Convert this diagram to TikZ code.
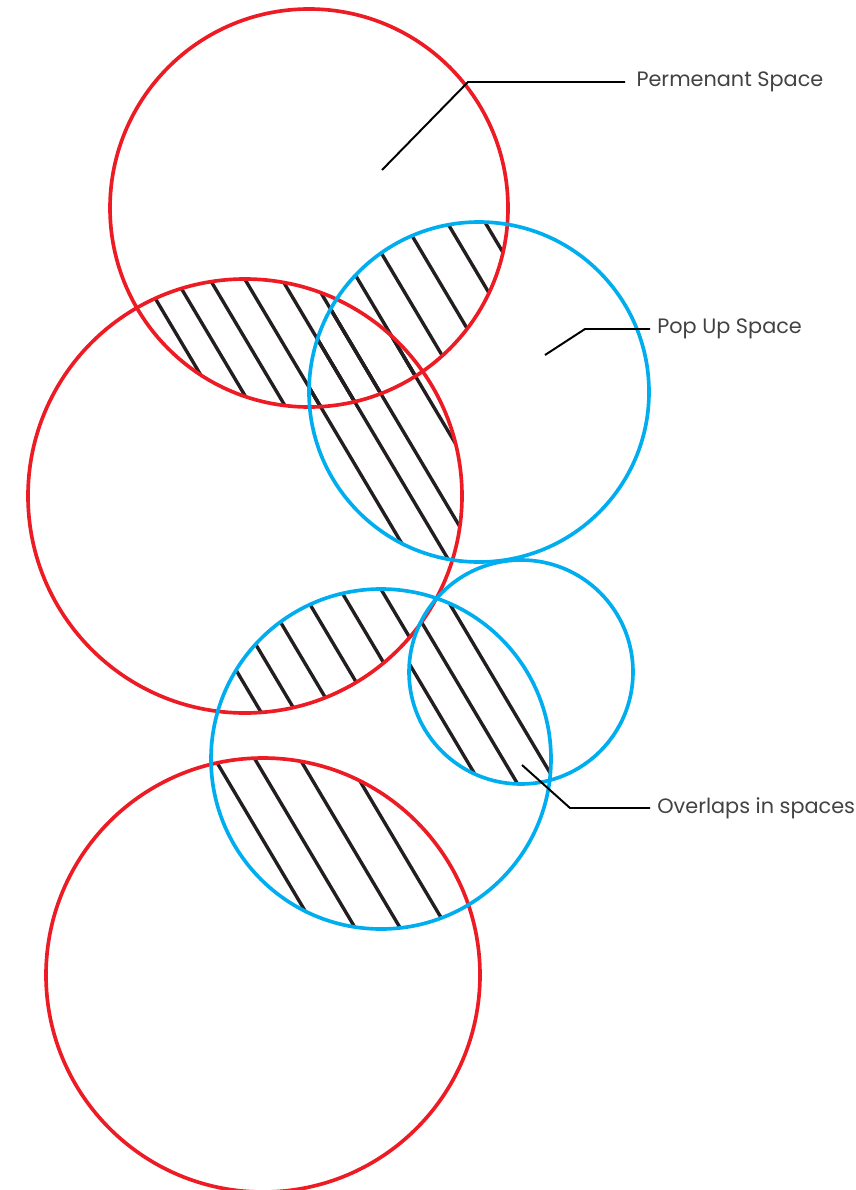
\documentclass[tikz,border=0pt]{standalone}
\usepackage{fontspec}
\setmainfont{Poppins}
\definecolor{krasn}{HTML}{ED1C24}
\definecolor{golub}{HTML}{00AEEF}
\definecolor{shtrih}{HTML}{231F20}
\begin{document}
\begin{tikzpicture}[x=0.025cm, y=-0.025cm,
  krug/.style={line width=2.6pt},
  hatch/.style={shtrih, line width=2.4pt},
  leader/.style={black, line width=1.4pt},
  podpis/.style={anchor=west, inner xsep=5pt, inner ysep=0pt,
    text=shtrih!85, font=\fontsize{14.8}{17}\selectfont}]

\useasboundingbox (0,0) rectangle (855,1190);

% центры кругов (в пикселях)
\coordinate (kA) at (309,208);   % красный верхний
\coordinate (kB) at (245,496);   % красный средний
\coordinate (kC) at (263,975);   % красный нижний
\coordinate (gA) at (479,392);   % голубой верхний
\coordinate (gB) at (521,672);   % голубой малый
\coordinate (gC) at (381,759);   % голубой нижний

%=== Штриховка пересечений ===
\foreach \pa/\ra/\pb/\rb in {kA/199/kB/217, kA/199/gA/170, kB/217/gA/170}{
  \begin{scope}
    \clip (\pa) circle[radius=\ra];
    \clip (\pb) circle[radius=\rb];
    \foreach \c in {-22,10,44,79,116,147,192,231,272,315,353}
      \draw[hatch] ({\c+0.594*200},200) -- ({\c+0.594*600},600);
  \end{scope}
}
\begin{scope}
  \clip (kB) circle[radius=217];
  \clip (gC) circle[radius=170];
  \foreach \c in {-162,-127,-89,-49,-10,31}
    \draw[hatch] ({\c+0.594*560},560) -- ({\c+0.594*740},740);
\end{scope}
\begin{scope}
  \clip (gB) circle[radius=112];
  \clip (gC) circle[radius=170];
  \foreach \c in {15,52,91}
    \draw[hatch] ({\c+0.594*560},560) -- ({\c+0.594*800},800);
\end{scope}
\begin{scope}
  \clip (kC) circle[radius=217];
  \clip (gC) circle[radius=170];
  \foreach \c in {-236,-196,-151,-104}
    \draw[hatch] ({\c+0.594*740},740) -- ({\c+0.594*940},940);
\end{scope}

%=== Круги ===
\foreach \p/\r in {kA/199, kB/217, kC/217}
  \draw[krug, krasn] (\p) circle[radius=\r];
\foreach \p/\r in {gA/170, gB/112, gC/170}
  \draw[krug, golub] (\p) circle[radius=\r];

%=== Подписи ===
\node[podpis, inner xsep=8pt] (lPerm) at (625,82) {Permenant Space};
\node[podpis] (lPop) at (650,329) {Pop Up Space};
\node[podpis] (lOver) at (650,808) {Overlaps in spaces};

\coordinate (pA) at (382,170);
\coordinate (pA1) at (468,82);
\coordinate (pB) at (545,355);
\coordinate (pB1) at (585,329);
\coordinate (pC) at (522,765);
\coordinate (pC1) at (570,808);

\draw[leader] (pA) -- (pA1) -- (lPerm.west);
\draw[leader] (pB) -- (pB1) -- (lPop.west);
\draw[leader] (pC) -- (pC1) -- (lOver.west);

\end{tikzpicture}
\end{document}
